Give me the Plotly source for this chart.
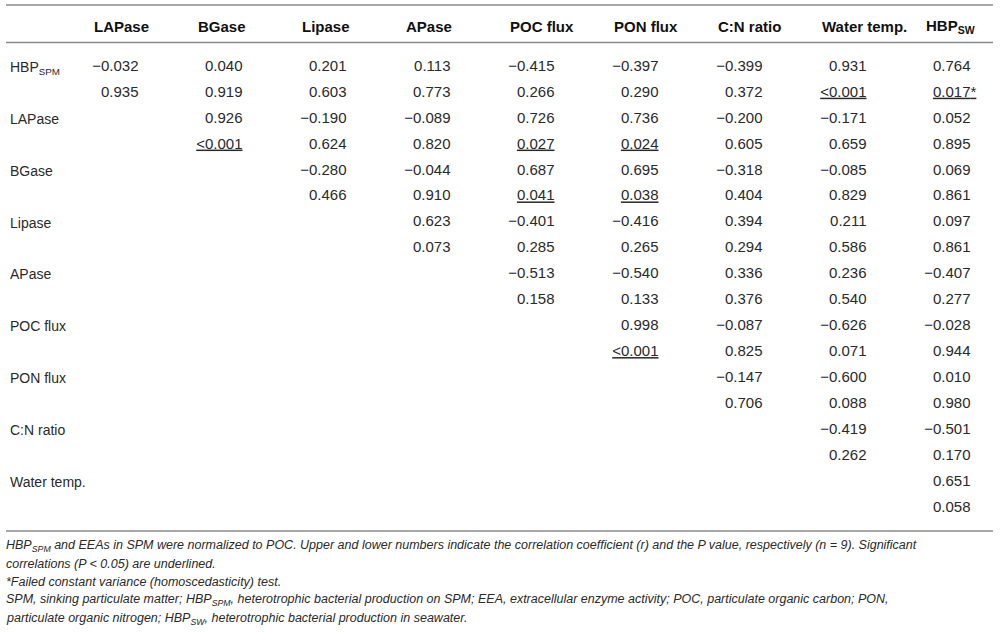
import plotly.graph_objects as go

# ---------------- data ----------------
col_labels = ["LAPase", "BGase", "Lipase", "APase", "POC flux", "PON flux",
              "C:N ratio", "Water temp.", "HBP<sub>SW</sub>"]
row_labels = ["HBP<sub>SPM</sub>", "LAPase", "BGase", "Lipase", "APase",
              "POC flux", "PON flux", "C:N ratio", "Water temp."]

# correlation coefficients (upper triangle, each row starts at its own column)
r_hbp_spm = [-0.032, 0.040, 0.201, 0.113, -0.415, -0.397, -0.399, 0.931, 0.764]
r_lapase = [0.926, -0.190, -0.089, 0.726, 0.736, -0.200, -0.171, 0.052]
r_bgase = [-0.280, -0.044, 0.687, 0.695, -0.318, -0.085, 0.069]
r_lipase = [0.623, -0.401, -0.416, 0.394, 0.211, 0.097]
r_apase = [-0.513, -0.540, 0.336, 0.236, -0.407]
r_poc = [0.998, -0.087, -0.626, -0.028]
r_pon = [-0.147, -0.600, 0.010]
r_cn = [-0.419, -0.501]
r_temp = [0.651]

# P values
p_hbp_spm = ["0.935", "0.919", "0.603", "0.773", "0.266", "0.290", "0.372", "<0.001", "0.017*"]
p_lapase = ["<0.001", "0.624", "0.820", "0.027", "0.024", "0.605", "0.659", "0.895"]
p_bgase = ["0.466", "0.910", "0.041", "0.038", "0.404", "0.829", "0.861"]
p_lipase = ["0.073", "0.285", "0.265", "0.294", "0.586", "0.861"]
p_apase = ["0.158", "0.133", "0.376", "0.540", "0.277"]
p_poc = ["<0.001", "0.825", "0.071", "0.944"]
p_pon = ["0.706", "0.088", "0.980"]
p_cn = ["0.262", "0.170"]
p_temp = ["0.058"]

footnotes = [
    "HBP<sub>SPM</sub> and EEAs in SPM were normalized to POC. Upper and lower numbers indicate the correlation coefficient (r) and the P value, respectively (n = 9). Significant",
    "correlations (P < 0.05) are underlined.",
    "*Failed constant variance (homoscedasticity) test.",
    "SPM, sinking particulate matter; HBP<sub>SPM</sub>, heterotrophic bacterial production on SPM; EEA, extracellular enzyme activity; POC, particulate organic carbon; PON,",
    "particulate organic nitrogen; HBP<sub>SW</sub>, heterotrophic bacterial production in seawater.",
]

r_rows = [r_hbp_spm, r_lapase, r_bgase, r_lipase, r_apase, r_poc, r_pon, r_cn, r_temp]
p_rows = [p_hbp_spm, p_lapase, p_bgase, p_lipase, p_apase, p_poc, p_pon, p_cn, p_temp]

# ---------------- build cells ----------------
W, H = 1000, 632
FONT = "Liberation Sans, Arial, Helvetica, sans-serif"
TXT = "#2a2a2a"
ALPHA = 0.05

xs, ys, texts = [], [], []
sx, sy, stexts = [], [], []
n_cols = len(col_labels)
for i, (rv, pv) in enumerate(zip(r_rows, p_rows)):
    start = n_cols - len(rv)
    for j, (r, p) in enumerate(zip(rv, pv)):
        col = col_labels[start + j]
        xs.append(col); ys.append(2 * i)
        texts.append(f"{r:.3f}".replace("-", "\u2212"))
        core = p.rstrip("*")
        star = p[len(core):]
        sig = core.startswith("<") or float(core) < ALPHA
        xs.append(col); ys.append(2 * i + 1)
        texts.append(f"<u>{core}</u>" if sig else core)
        if star:
            sx.append(col); sy.append(2 * i + 1)
            stexts.append(f"<u>{star}</u>" if sig else star)

# ---------------- layout constants ----------------
col_step = 104.0
first_col_px = 138.5
row0_px = 67.0
row_step = 25.94
rule_px = [5.0, 42.5, 531.0]
rule_x = [6.0, 993.0]

x_range = [-first_col_px / col_step, (W - first_col_px) / col_step]
y_range = [(H - row0_px) / row_step, -row0_px / row_step]


def py(px):
    return 1 - px / H


fig = go.Figure()
fig.add_trace(go.Scatter(
    x=xs, y=ys, text=texts, mode="text", textposition="middle left",
    textfont=dict(family=FONT, size=15, color=TXT), hoverinfo="skip",
    showlegend=False, cliponaxis=False))
fig.add_trace(go.Scatter(
    x=sx, y=sy, text=stexts, mode="text", textposition="middle right",
    textfont=dict(family=FONT, size=15, color=TXT), hoverinfo="skip",
    showlegend=False, cliponaxis=False))

shapes = []
for r in rule_px:
    shapes.append(dict(type="line", xref="paper", yref="paper", layer="above",
                       x0=rule_x[0] / W, x1=rule_x[1] / W, y0=py(r), y1=py(r),
                       line=dict(color="#8a8a8a", width=1.5)))

annotations = []
for col in col_labels:
    annotations.append(dict(
        x=col, xref="x", y=py(26), yref="paper", text=f"<b>{col}</b>",
        showarrow=False, xanchor="left", yanchor="middle", xshift=-47,
        font=dict(family=FONT, size=15, color="#111111")))

foot_y = [546, 564, 582, 600, 619]
for t, fy in zip(footnotes, foot_y):
    annotations.append(dict(
        x=4 / W, xref="paper", y=py(fy), yref="paper", text=t,
        showarrow=False, xanchor="left", yanchor="middle", align="left",
        font=dict(family=FONT, size=12.5, color=TXT, style="italic")))

fig.update_layout(
    width=W, height=H,
    margin=dict(l=0, r=0, t=0, b=0, pad=0, autoexpand=False),
    paper_bgcolor="white", plot_bgcolor="rgba(0,0,0,0)",
    xaxis=dict(type="category", categoryorder="array", categoryarray=col_labels,
               range=x_range, visible=False, fixedrange=True, automargin=False),
    yaxis=dict(range=y_range, tickmode="array",
               tickvals=[2 * i for i in range(len(row_labels))],
               ticktext=row_labels, ticklabelposition="inside",
               ticks="", showgrid=False, zeroline=False, showline=False,
               tickfont=dict(family=FONT, size=14, color=TXT),
               ticklabelstandoff=7, fixedrange=True, automargin=False),
    shapes=shapes, annotations=annotations,
)

fig.write_html(
    "out.html",
    config={"displayModeBar": False},
    post_script=(
        "var gd=document.getElementById('{plot_id}');"
        "gd.style.position='absolute';gd.style.left='0px';gd.style.top='0px';"
    ),
)
